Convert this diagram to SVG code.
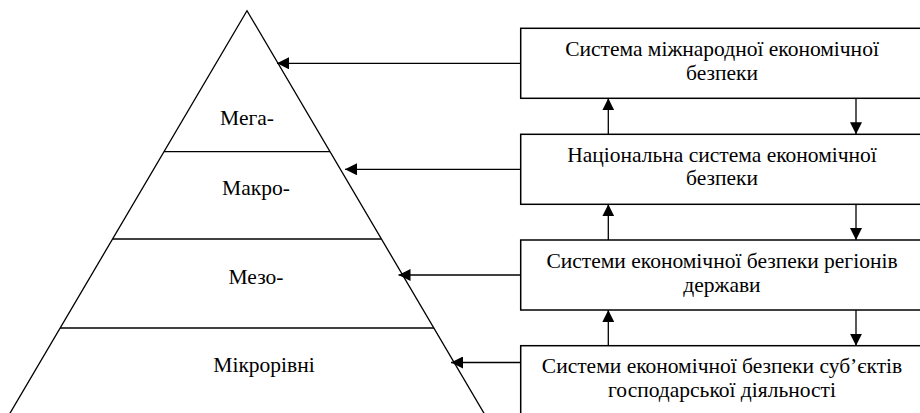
<svg xmlns="http://www.w3.org/2000/svg" width="920" height="413" viewBox="0 0 920 413">
<defs>
<style>
.ln{stroke:#000;stroke-width:1.3;fill:none}
.box{stroke:#000;stroke-width:1.5;fill:#fff}
text{font-family:'Liberation Serif','DejaVu Serif',serif;font-size:21.5px;fill:#000;text-anchor:middle}
</style>
<marker id="ah" viewBox="0 0 12 12" refX="12" refY="6" markerWidth="12" markerHeight="12" markerUnits="userSpaceOnUse" orient="auto">
<path d="M0,0 L12,6 L0,12 Z" fill="#000"/>
</marker>
</defs>
<rect width="920" height="413" fill="#fff"/>
<g id="pyramid">
<polyline class="ln" points="6,420 247,10.7 488,420"/>
<line class="ln" x1="164" y1="151.7" x2="330" y2="151.7"/>
<line class="ln" x1="113" y1="239" x2="381" y2="239"/>
<line class="ln" x1="60" y1="328" x2="434" y2="328"/>
<text x="247" y="124.5">Мега-</text>
<text x="256" y="195">Макро-</text>
<text x="256" y="284">Мезо-</text>
<text x="264" y="372">Мікрорівні</text>
</g>
<g id="box1">
<rect class="box" x="520.7" y="28.3" width="403" height="70"/>
<text x="722" y="56">Система міжнародної економічної</text>
<text x="722" y="80">безпеки</text>
</g>
<g id="box2">
<rect class="box" x="520.7" y="134.3" width="403" height="70"/>
<text x="722" y="161.5">Національна система економічної</text>
<text x="722" y="185">безпеки</text>
</g>
<g id="box3">
<rect class="box" x="520.7" y="240" width="403" height="70"/>
<text x="722" y="268">Системи економічної безпеки регіонів</text>
<text x="722" y="291.7">держави</text>
</g>
<g id="box4">
<rect class="box" x="520.7" y="345.7" width="403" height="80"/>
<text x="722" y="373">Системи економічної безпеки суб’єктів</text>
<text x="722" y="396.7">господарської діяльності</text>
</g>
<g id="connectors">
<line class="ln" x1="520.7" y1="63.3" x2="277" y2="63.3" marker-end="url(#ah)"/>
<line class="ln" x1="520.7" y1="169.3" x2="345" y2="169.3" marker-end="url(#ah)"/>
<line class="ln" x1="520.7" y1="275" x2="398.5" y2="275" marker-end="url(#ah)"/>
<line class="ln" x1="520.7" y1="362.5" x2="451" y2="362.5" marker-end="url(#ah)"/>
<line class="ln" x1="608.3" y1="134.3" x2="608.3" y2="98.3" marker-end="url(#ah)"/>
<line class="ln" x1="856" y1="98.3" x2="856" y2="134.3" marker-end="url(#ah)"/>
<line class="ln" x1="608.3" y1="240" x2="608.3" y2="204.3" marker-end="url(#ah)"/>
<line class="ln" x1="856" y1="204.3" x2="856" y2="240" marker-end="url(#ah)"/>
<line class="ln" x1="608.3" y1="345.7" x2="608.3" y2="310" marker-end="url(#ah)"/>
<line class="ln" x1="856" y1="310" x2="856" y2="345.7" marker-end="url(#ah)"/>
</g>
</svg>
